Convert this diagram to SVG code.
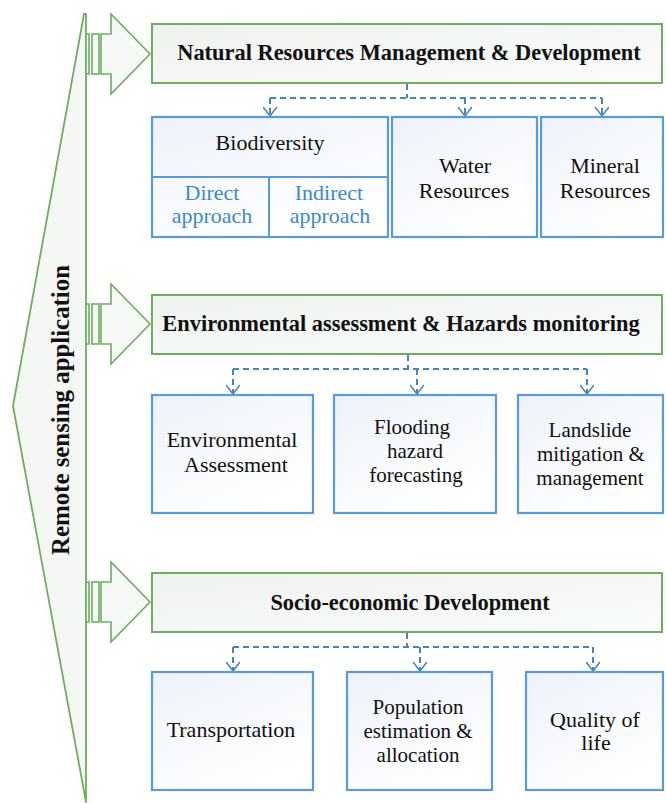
<svg xmlns="http://www.w3.org/2000/svg" width="666" height="803" viewBox="0 0 666 803">
<defs>
<linearGradient id="gHead" x1="0" y1="0" x2="1" y2="1">
<stop offset="0" stop-color="#eef2ee"/>
<stop offset="1" stop-color="#fbfcfd"/>
</linearGradient>
<linearGradient id="gBox" x1="0" y1="0" x2="0.6" y2="1">
<stop offset="0" stop-color="#edf2f9"/>
<stop offset="1" stop-color="#ffffff"/>
</linearGradient>
<marker id="arr" markerWidth="18" markerHeight="14" refX="12" refY="7" orient="auto" markerUnits="userSpaceOnUse">
<path d="M3,0 L12,7 L3,14" fill="none" stroke="#4a86b5" stroke-width="1.6"/>
</marker>
</defs>
<style>
.head{fill:url(#gHead);stroke:#6fae62;stroke-width:2}
.arrow{fill:#f6f8f6;stroke:#6fae62;stroke-width:1.6}
.box{fill:url(#gBox);stroke:#5b9bd5;stroke-width:2.2}
.div{fill:none;stroke:#5b9bd5;stroke-width:2}
.ht{font-family:"Liberation Serif","Times New Roman",serif;font-weight:bold;font-size:22.4px;fill:#111;text-anchor:middle}
.bt{font-family:"Liberation Serif","Times New Roman",serif;font-size:22px;fill:#111;text-anchor:middle}
.sm{font-size:21px}
.blue{fill:#3e8ac4}
.con{fill:none;stroke:#4a86b5;stroke-width:2;stroke-dasharray:6 4}
</style>

<g id="side">
<polygon points="84,14 86,14 86,802 13,406" fill="#f5f7f5" stroke="#6fae62" stroke-width="1.8" stroke-linejoin="round"/>
<text x="69" y="410" transform="rotate(-90 69 410)" font-family="Liberation Serif,serif" font-weight="bold" font-size="25" text-anchor="middle" fill="#111" textLength="290" lengthAdjust="spacingAndGlyphs">Remote sensing application</text>
</g>

<g id="arrow1">
<rect x="86" y="34" width="3" height="40" class="arrow"/>
<rect x="92" y="34" width="7" height="40" class="arrow"/>
<polygon points="101,34 111,34 111,14 150,54 111,94 111,74 101,74" class="arrow"/>
</g>
<g id="arrow2">
<rect x="86" y="304" width="3" height="40" class="arrow"/>
<rect x="92" y="304" width="7" height="40" class="arrow"/>
<polygon points="101,304 111,304 111,284 150,324 111,364 111,344 101,344" class="arrow"/>
</g>
<g id="arrow3">
<rect x="86" y="582" width="3" height="40" class="arrow"/>
<rect x="92" y="582" width="7" height="40" class="arrow"/>
<polygon points="101,582 111,582 111,562 150,602 111,642 111,622 101,622" class="arrow"/>
</g>

<g id="head1">
<rect x="152" y="24" width="510" height="59" class="head"/>
<text x="409" y="60" class="ht">Natural Resources Management &amp; Development</text>
</g>
<g id="head2">
<rect x="152" y="295" width="510" height="59" class="head"/>
<text x="401" y="331" class="ht">Environmental assessment &amp; Hazards monitoring</text>
</g>
<g id="head3">
<rect x="152" y="573" width="510" height="59" class="head"/>
<text x="410" y="610" class="ht">Socio-economic Development</text>
</g>

<g id="connectors">
<path class="con" d="M407,84 V98"/>
<path class="con" d="M270,98 H602"/>
<path class="con" d="M270,98 V116" marker-end="url(#arr)"/>
<path class="con" d="M465,98 V116" marker-end="url(#arr)"/>
<path class="con" d="M602,98 V116" marker-end="url(#arr)"/>

<path class="con" d="M408,355 V369"/>
<path class="con" d="M233,369 H587"/>
<path class="con" d="M233,369 V394" marker-end="url(#arr)"/>
<path class="con" d="M417,369 V394" marker-end="url(#arr)"/>
<path class="con" d="M587,369 V394" marker-end="url(#arr)"/>

<path class="con" d="M407,633 V647"/>
<path class="con" d="M233,647 H593"/>
<path class="con" d="M233,647 V671" marker-end="url(#arr)"/>
<path class="con" d="M420,647 V671" marker-end="url(#arr)"/>
<path class="con" d="M593,647 V671" marker-end="url(#arr)"/>
</g>

<g id="biodiversity">
<rect x="152" y="117" width="236" height="120" class="box"/>
<path class="div" d="M152,177 H388 M269,177 V237"/>
<text x="270" y="150" class="bt">Biodiversity</text>
<text x="212" y="200" class="bt blue">Direct</text>
<text x="212" y="223" class="bt blue">approach</text>
<text x="329" y="200" class="bt blue">Indirect</text>
<text x="330" y="223" class="bt blue">approach</text>
</g>
<g id="water">
<rect x="392" y="117" width="145" height="120" class="box"/>
<text x="465" y="173" class="bt">Water</text>
<text x="464" y="198" class="bt">Resources</text>
</g>
<g id="mineral">
<rect x="541" y="117" width="122" height="120" class="box"/>
<text x="605" y="173" class="bt">Mineral</text>
<text x="605" y="198" class="bt">Resources</text>
</g>

<g id="envassess">
<rect x="152" y="395" width="161" height="118" class="box"/>
<text x="232" y="447" class="bt">Environmental</text>
<text x="236" y="472" class="bt">Assessment</text>
</g>
<g id="flooding">
<rect x="334" y="395" width="162" height="118" class="box"/>
<text x="412" y="434" class="bt sm">Flooding</text>
<text x="415" y="458" class="bt sm">hazard</text>
<text x="416" y="482" class="bt sm">forecasting</text>
</g>
<g id="landslide">
<rect x="518" y="395" width="145" height="118" class="box"/>
<text x="590" y="437" class="bt sm">Landslide</text>
<text x="591" y="461" class="bt sm">mitigation &amp;</text>
<text x="590" y="485" class="bt sm">management</text>
</g>

<g id="transport">
<rect x="152" y="672" width="161" height="118" class="box"/>
<text x="231" y="737" class="bt">Transportation</text>
</g>
<g id="population">
<rect x="347" y="672" width="145" height="118" class="box"/>
<text x="418" y="714" class="bt sm">Population</text>
<text x="418" y="738" class="bt sm">estimation &amp;</text>
<text x="418" y="762" class="bt sm">allocation</text>
</g>
<g id="quality">
<rect x="526" y="672" width="137" height="118" class="box"/>
<text x="595" y="727" class="bt">Quality of</text>
<text x="596" y="750" class="bt">life</text>
</g>
</svg>
